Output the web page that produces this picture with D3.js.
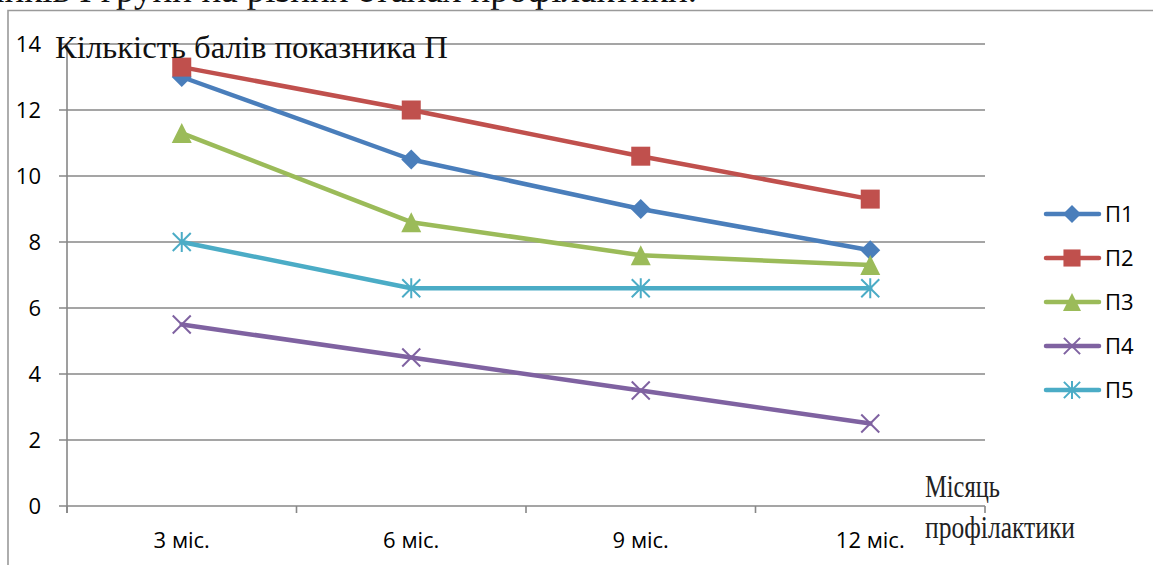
<!DOCTYPE html>
<html>
<head>
<meta charset="utf-8">
<script src="https://cdn.jsdelivr.net/npm/d3@7"></script>
<style>
  html, body { margin: 0; padding: 0; background: #fff; overflow: hidden; }
  svg { display: block; }
</style>
</head>
<body>
<svg id="chart" width="1153" height="565"></svg>
<script>
// Categories (stages of prophylaxis) and score values per indicator
const categories = ["3 міс.", "6 міс.", "9 міс.", "12 міс."];
const seriesNames = ["П1", "П2", "П3", "П4", "П5"];
const p1 = [13, 10.5, 9, 7.75];
const p2 = [13.3, 12, 10.6, 9.3];
const p3 = [11.3, 8.6, 7.6, 7.3];
const p4 = [5.5, 4.5, 3.5, 2.5];
const p5 = [8, 6.6, 6.6, 6.6];
const yTicks = [0, 2, 4, 6, 8, 10, 12, 14];
const colors = ["#4a7ebb", "#c0504d", "#9bbb59", "#7f62a1", "#4bacc6"];
const markers = ["diamond", "square", "triangle", "cross", "star"];

const seriesValues = [p1, p2, p3, p4, p5];
const series = seriesNames.map((name, i) => ({
  name, values: seriesValues[i], color: colors[i], marker: markers[i]
}));

const svg = d3.select("#chart");
const serif = "'Liberation Serif', 'DejaVu Serif', serif";
const sans = "'Open Sans', 'Noto Sans', sans-serif";
const labelSize = 22;

const plotLeft = 67, plotRight = 985, plotTop = 44, plotBottom = 506;

const x = d3.scalePoint().domain(categories).range([plotLeft, plotRight]).padding(0.5);
const y = d3.scaleLinear().domain([0, 14]).range([plotBottom, plotTop]);
const step = x.step();

// Caption line running above the frame (its upper part lies above the page top)
svg.append("text")
  .attr("x", 697).attr("y", 2)
  .attr("text-anchor", "end")
  .attr("font-family", serif).attr("font-size", 37)
  .attr("fill", "#111")
  .text("Динаміка показників І групи на різних етапах профілактики.");

// Outer frame (top and left edges)
svg.append("path")
  .attr("d", "M8,565 L8,10.5 L1153,10.5")
  .attr("fill", "none").attr("stroke", "#9a9a9a").attr("stroke-width", 1.6);

// Horizontal gridlines (value axis)
const grid = svg.append("g");
grid.selectAll("line").data(yTicks).join("line")
  .attr("x1", plotLeft - 8).attr("x2", plotRight)
  .attr("y1", d => y(d)).attr("y2", d => y(d))
  .attr("stroke", "#878787").attr("stroke-width", 1.6);

// Value axis line
svg.append("line")
  .attr("x1", plotLeft).attr("x2", plotLeft)
  .attr("y1", plotTop).attr("y2", plotBottom + 7)
  .attr("stroke", "#878787").attr("stroke-width", 1.6);

// Category tick marks between categories
const boundaries = d3.range(categories.length + 1).map(i => plotLeft + i * step);
svg.append("g").selectAll("line").data(boundaries).join("line")
  .attr("x1", d => d).attr("x2", d => d)
  .attr("y1", plotBottom).attr("y2", plotBottom + 7)
  .attr("stroke", "#878787").attr("stroke-width", 1.6);

// Value tick labels
svg.append("g").selectAll("text").data(yTicks).join("text")
  .attr("x", 41).attr("y", d => y(d))
  .attr("dy", "0.36em")
  .attr("text-anchor", "end")
  .attr("font-family", sans).attr("font-size", labelSize)
  .attr("fill", "#000")
  .text(d => d);

// Category labels
svg.append("g").selectAll("text").data(categories).join("text")
  .attr("x", d => x(d)).attr("y", 548)
  .attr("text-anchor", "middle")
  .attr("font-family", sans).attr("font-size", labelSize)
  .attr("fill", "#000")
  .text(d => d);

// Marker drawing
function drawMarker(g, type, color, size) {
  const h = size / 2;
  if (type === "diamond") {
    g.append("path").attr("d", `M0,${-h}L${h},0L0,${h}L${-h},0Z`).attr("fill", color);
  } else if (type === "square") {
    const s = h * 0.95;
    g.append("rect").attr("x", -s).attr("y", -s).attr("width", 2 * s).attr("height", 2 * s).attr("fill", color);
  } else if (type === "triangle") {
    g.append("path").attr("d", `M0,${-h}L${h},${h}L${-h},${h}Z`).attr("fill", color);
  } else if (type === "cross") {
    const c = h * 0.9;
    g.append("path").attr("d", `M${-c},${-c}L${c},${c}M${-c},${c}L${c},${-c}`)
      .attr("stroke", color).attr("stroke-width", 2).attr("fill", "none");
  } else if (type === "star") {
    const c = h * 0.9;
    g.append("path").attr("d", `M${-c},${-c}L${c},${c}M${-c},${c}L${c},${-c}M0,${-h}L0,${h}`)
      .attr("stroke", color).attr("stroke-width", 2).attr("fill", "none");
  }
}

// Series lines and markers
const line = d3.line().x((d, i) => x(categories[i])).y(d => y(d));
series.forEach(s => {
  const g = svg.append("g");
  g.append("path")
    .attr("d", line(s.values))
    .attr("fill", "none").attr("stroke", s.color)
    .attr("stroke-width", 4.5).attr("stroke-linejoin", "round").attr("stroke-linecap", "round");
  s.values.forEach((v, i) => {
    const mg = g.append("g").attr("transform", `translate(${x(categories[i])},${y(v)})`);
    drawMarker(mg, s.marker, s.color, 20);
  });
});

// Chart heading inside the plot area
svg.append("text")
  .attr("x", 55).attr("y", 58)
  .attr("font-family", serif).attr("font-size", 31)
  .attr("textLength", 393).attr("lengthAdjust", "spacingAndGlyphs")
  .attr("fill", "#111")
  .text("Кількість балів показника П");

// Category axis title
const axisTitle = svg.append("g").attr("font-family", serif).attr("font-size", 31).attr("fill", "#222");
axisTitle.append("text").attr("x", 925).attr("y", 497)
  .attr("textLength", 75).attr("lengthAdjust", "spacingAndGlyphs").text("Місяць");
axisTitle.append("text").attr("x", 925).attr("y", 538)
  .attr("textLength", 150).attr("lengthAdjust", "spacingAndGlyphs").text("профілактики");

// Legend
const legend = svg.append("g");
series.forEach((s, i) => {
  const ly = 214 + i * 44;
  const lg = legend.append("g").attr("transform", `translate(0,${ly})`);
  lg.append("line").attr("x1", 1046).attr("x2", 1099).attr("y1", 0).attr("y2", 0)
    .attr("stroke", s.color).attr("stroke-width", 4.5).attr("stroke-linecap", "round");
  const mg = lg.append("g").attr("transform", "translate(1072,0)");
  drawMarker(mg, s.marker, s.color, 18);
  lg.append("text").attr("x", 1105).attr("y", 0).attr("dy", "0.36em")
    .attr("font-family", sans).attr("font-size", labelSize).attr("fill", "#000")
    .text(s.name);
});
</script>
</body>
</html>
